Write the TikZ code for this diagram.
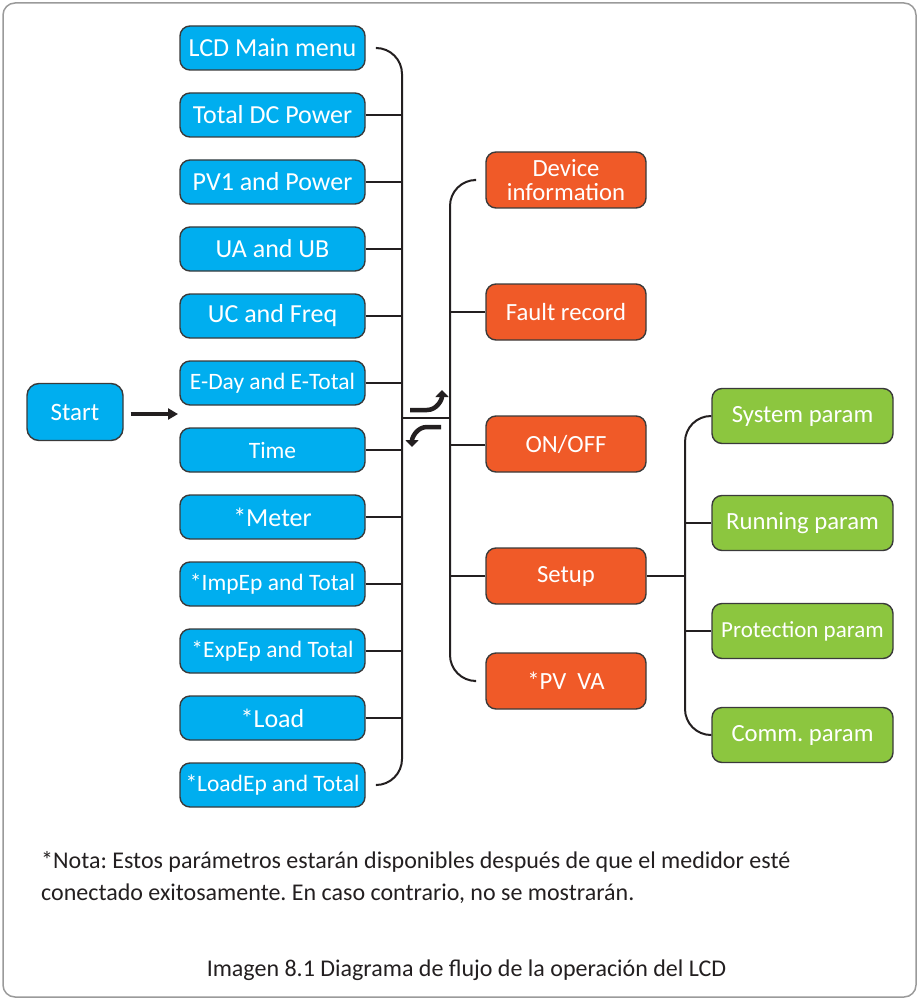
\documentclass[tikz,border=0pt]{standalone}
\usepackage{fontspec}
\setmainfont{Carlito}
\usetikzlibrary{arrows.meta}
\definecolor{cblue}{HTML}{00AEEF}
\definecolor{corange}{HTML}{F05A28}
\definecolor{cgreen}{HTML}{8CC63F}
\definecolor{boxline}{HTML}{3A3A3A}
\definecolor{linec}{HTML}{231F20}
\definecolor{framec}{HTML}{9A9A9A}
\frenchspacing
\begin{document}
\begin{tikzpicture}[x=1pt,y=-1pt,
  box/.style={draw=boxline, line width=1.4pt, rounded corners=10pt, text=white, inner sep=0pt, align=center, font=\fontsize{24.7}{24}\selectfont},
  bluebox/.style={box, fill=cblue, minimum width=185pt, minimum height=44pt, font=\fontsize{26}{24}\selectfont},
  sm/.style={font=\fontsize{23.5}{24}\selectfont},
  orangebox/.style={box, fill=corange, minimum width=160pt, minimum height=56pt},
  greenbox/.style={box, fill=cgreen, minimum width=181pt, minimum height=55pt},
  conn/.style={draw=linec, line width=2pt},
  bigarrow/.style={draw=linec, line width=4.5pt, -{Triangle[length=7pt,width=13pt]}},
  txt/.style={text=linec, inner sep=0pt, font=\fontsize{24}{28}\selectfont}]
\useasboundingbox (0,0) rectangle (919,1000);
\draw[framec, line width=1.5pt, rounded corners=12pt] (3,3) rectangle (916,997);

% left column
\node[bluebox] (lcd) at (272.5,48) {LCD Main menu};
\node[bluebox] (tdc) at (272.5,115) {Total DC Power};
\node[bluebox] (pv1) at (272.5,182) {PV1 and Power};
\node[bluebox] (uaub) at (272.5,249) {UA and UB};
\node[bluebox] (ucf) at (272.5,316) {UC and Freq};
\node[bluebox, sm] (eday) at (272.5,383) {E-Day and E-Total};
\node[bluebox, sm] (time) at (272.5,450) {Time};
\node[bluebox] (meter) at (272.5,517) {*Meter};
\node[bluebox, sm] (imp) at (272.5,584) {*ImpEp and Total};
\node[bluebox, sm] (exp) at (272.5,651) {*ExpEp and Total};
\node[bluebox] (load) at (272.5,718) {*Load};
\node[bluebox, sm] (loadep) at (272.5,785) {*LoadEp and Total};

\node[box, fill=cblue, minimum width=96pt, minimum height=57pt, rounded corners=12pt, font=\fontsize{25}{24}\selectfont] (start) at (75,412) {Start};

% middle column
\node[orangebox] (dev) at (566,180) {Device\\information};
\node[orangebox] (fault) at (566,312) {Fault record};
\node[orangebox] (onoff) at (566,444) {ON/OFF};
\node[orangebox] (setup) at (566,576) {Setup};
\node[orangebox] (pvva) at (566,681) {*PV\ \ VA};

% right column
\node[greenbox] (sys) at (802.5,416) {System param};
\node[greenbox] (run) at (802.5,523) {Running param};
\node[greenbox, font=\fontsize{23}{24}\selectfont] (prot) at (802.5,631) {Protection param};
\node[greenbox] (comm) at (802.5,735) {Comm. param};

% buses
\coordinate (lbus) at (402,418);
\coordinate (rbus) at (450,418);
\coordinate (gbus) at (685,576);

\draw[conn, rounded corners=26pt] ([xshift=11pt]lcd.east) -| (lbus) |- ([xshift=11pt]loadep.east);
\foreach \n in {tdc,pv1,uaub,ucf,eday,time,meter,imp,exp,load}
  \draw[conn] (\n.east) -- (\n.east -| lbus);
\draw[conn] (lbus) -- (rbus);

\draw[conn, rounded corners=26pt] ([xshift=-11pt]dev.west) -| (rbus) |- ([xshift=-11pt]pvva.west);
\draw[conn] (fault.west) -- (fault.west -| rbus);
\draw[conn] ([yshift=-1pt]onoff.west) -- ([yshift=-1pt]onoff.west -| rbus);
\draw[conn] (setup.west) -- (setup.west -| rbus);

\draw[conn, rounded corners=26pt] (sys.west) -| (gbus) |- (comm.west);
\draw[conn] (run.west) -- (run.west -| gbus);
\draw[conn] (prot.west) -- (prot.west -| gbus);
\draw[conn] (setup.east) -- (gbus);

% start arrow
\draw[draw=linec, line width=3.5pt, -{Triangle[length=10pt,width=11pt]}] ([xshift=7pt]start.east |- 0,414) -- (178,414);

% swap arrows
\coordinate (ua1) at (410,410);
\coordinate (ua2) at (427,410);
\coordinate (ua3) at (442,390);
\coordinate (la1) at (441,427);
\coordinate (la2) at (427,427);
\coordinate (la3) at (412,447);
\draw[bigarrow] (ua1) -- (ua2) to[out=0,in=-90] (ua3);
\draw[bigarrow] (la1) -- (la2) to[out=180,in=90] (la3);

% note
\node[txt, anchor=base west] (note1) at (41,868) {*Nota: Estos parámetros estarán disponibles después de que el medidor esté};
\node[txt, anchor=base west] (note2) at (41,900) {conectado exitosamente. En caso contrario, no se mostrarán.};
\node[txt, anchor=base] (cap) at (466.5,976) {Imagen 8.1 Diagrama de flujo de la operación del LCD};
\end{tikzpicture}
\end{document}
